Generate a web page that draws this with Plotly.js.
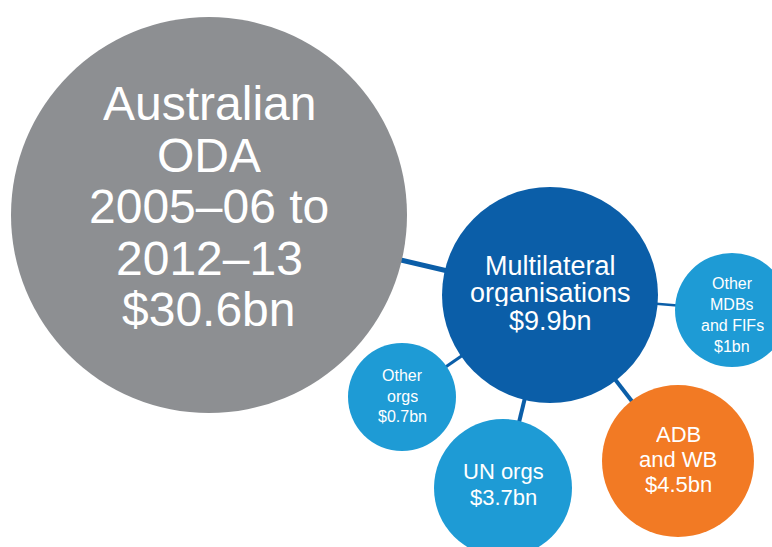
<!DOCTYPE html>
<html>
<head>
<meta charset="utf-8">
<script src="https://cdn.plot.ly/plotly-3.0.1.min.js"></script>
<style>html,body{margin:0;padding:0;background:#fff;}#chart{width:772px;height:547px;}</style>
</head>
<body>
<div id="chart"></div>
<script>
// ---- data ----
const nameLines = [
  ["Australian", "ODA", "2005–06 to", "2012–13"],
  ["Multilateral", "organisations"],
  ["Other", "MDBs", "and FIFs"],
  ["ADB", "and WB"],
  ["UN orgs"],
  ["Other", "orgs"]
];
const valuesBn = [30.6, 9.9, 1, 4.5, 3.7, 0.7];
const parentIdx = [null, 0, 1, 1, 1, 1];

// ---- layout / style (pixel-space positions) ----
const cx = [209, 550, 732, 678, 503, 402];
const cy = [215, 295, 310, 461, 488, 397];
const diam = [396, 216, 114, 152, 138, 108];
const fill = ["#8d8f92", "#0b5ea8", "#1e9bd5", "#f27a24", "#1e9bd5", "#1e9bd5"];
const fontSize = [48, 27, 16, 22, 22, 16];
const lineGap = [51.5, 27.5, 21, 25, 26, 20.5];
const textCy = [206, 293, 314, 459, 484, 396];
const linkWidth = [null, 5, 2.5, 4, 4, 3];
const linkColor = "#0b5ea8";

const traces = [];
for (let i = 0; i < parentIdx.length; i++) {
  const p = parentIdx[i];
  if (p === null) continue;
  traces.push({
    type: "scatter", mode: "lines",
    x: [cx[p], cx[i]], y: [cy[p], cy[i]],
    line: {color: linkColor, width: linkWidth[i]},
    hoverinfo: "skip", showlegend: false
  });
}
traces.push({
  type: "scatter", mode: "markers",
  x: cx, y: cy,
  marker: {size: diam, sizemode: "diameter", color: fill, opacity: 1, line: {width: 0}},
  cliponaxis: false,
  hoverinfo: "skip", showlegend: false
});

const annotations = [];
for (let i = 0; i < nameLines.length; i++) {
  const lines = nameLines[i].concat(["$" + String(valuesBn[i]) + "bn"]);
  const n = lines.length;
  lines.forEach((t, k) => {
    annotations.push({
      x: cx[i], y: textCy[i] + (k - (n - 1) / 2) * lineGap[i],
      xref: "x", yref: "y", text: t, showarrow: false,
      xanchor: "center", yanchor: "middle", valign: "middle",
      height: Math.floor(lineGap[i]) - 1, borderpad: 0,
      font: {family: "Liberation Sans, Arial, sans-serif", size: fontSize[i], color: "#ffffff"}
    });
  });
}

const layout = {
  width: 772, height: 547,
  margin: {l: 0, r: 0, t: 0, b: 0, pad: 0},
  paper_bgcolor: "#ffffff", plot_bgcolor: "#ffffff",
  xaxis: {range: [0, 772], visible: false, fixedrange: true},
  yaxis: {range: [547, 0], visible: false, fixedrange: true},
  annotations: annotations,
  showlegend: false
};
Plotly.newPlot("chart", traces, layout, {displayModeBar: false, staticPlot: true});
</script>
</body>
</html>
